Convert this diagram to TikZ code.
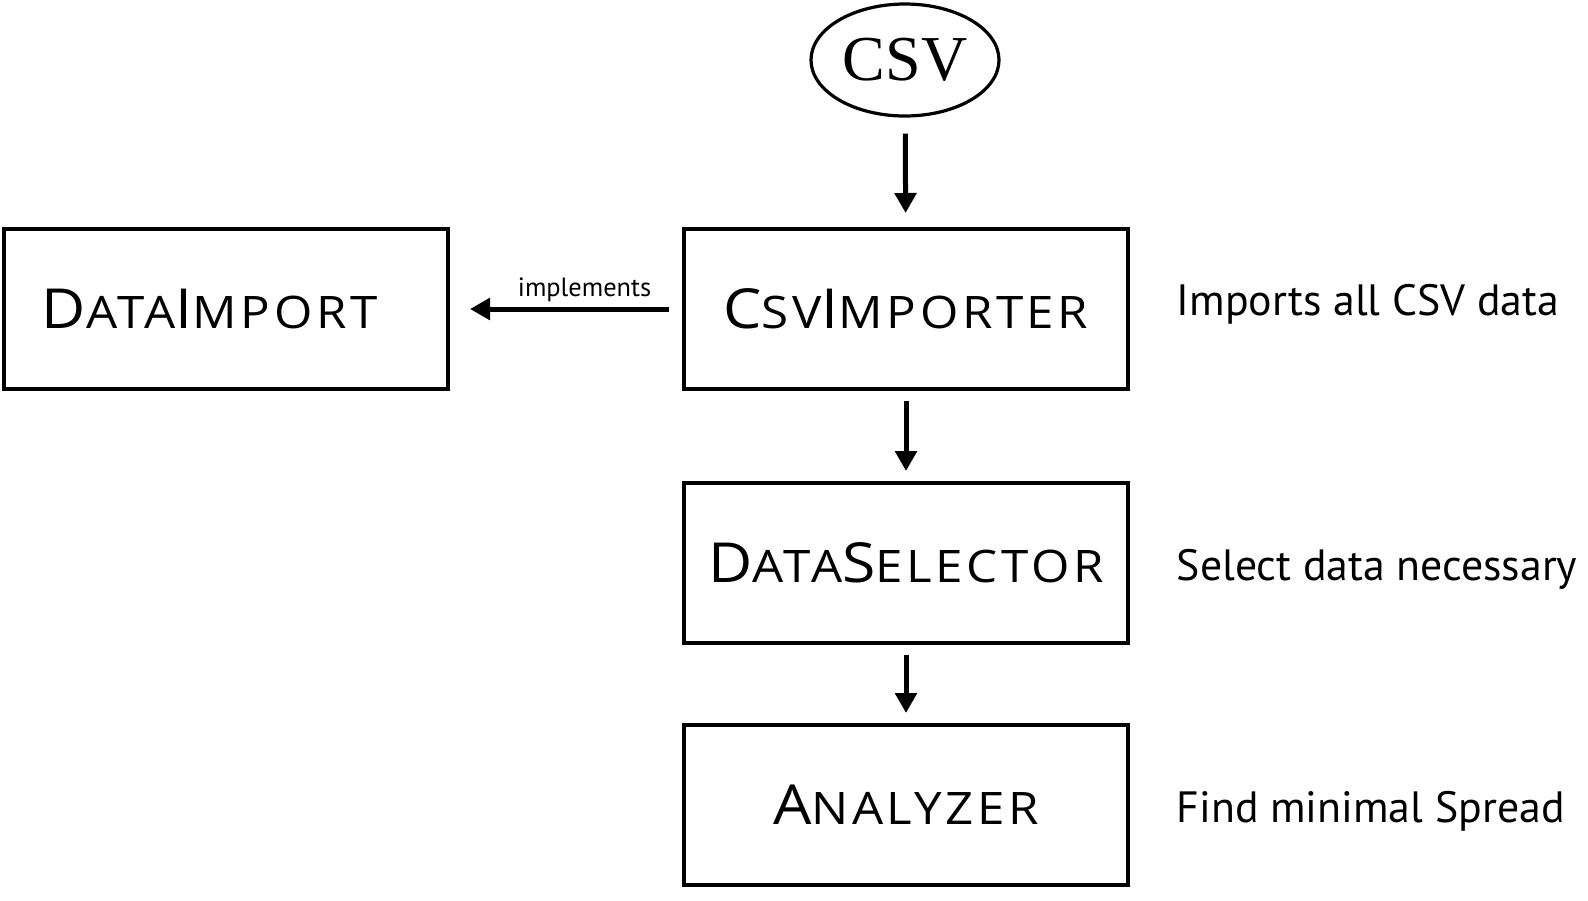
\documentclass[tikz,border=0pt]{standalone}
\usepackage{fontspec}
\newfontfamily\labelfont{PT Sans}
\newfontfamily\classfont[LetterSpace=8,FakeStretch=1.1]{Open Sans}
\newfontfamily\inputfont{Liberation Serif}
\usetikzlibrary{arrows.meta,shapes.geometric}

% fake small caps for the class names
\newcommand{\smallpart}[1]{{\fontsize{11.2}{12}\selectfont #1}}

\tikzset{
  classbox/.style={draw, line width=1pt, minimum width=111pt, minimum height=40pt,
    inner sep=0pt, font=\classfont\fontsize{13.8}{16}\selectfont},
  flowarrow/.style={-{Triangle[width=5.3pt,length=5pt]}, line width=1.25pt,
    shorten <=2.5pt, shorten >=2.5pt},
  sidenote/.style={anchor=base west, inner sep=0pt, font=\labelfont\fontsize{10.95}{12}\selectfont}
}

\begin{document}
\begin{tikzpicture}[x=0.25pt,y=-0.25pt]
  \useasboundingbox (0,0) rectangle (1588,901);

  \node [ellipse, draw, line width=0.8pt, minimum width=47pt, minimum height=28pt, inner sep=0pt,
         font=\inputfont\fontsize{16}{18}\selectfont] (csv) at (905,60) {CSV};

  \node [classbox] (importer) at (906,309) {C\smallpart{SV}I\smallpart{MPORTER}};
  \node [classbox] (dataimport) at (226,309) {D\smallpart{ATA}I\smallpart{MPORT}\kern8.2pt}; % text sits left of centre
  \node [classbox] (selector) at (906,563) {D\smallpart{ATA}S\smallpart{ELECTOR}};
  \node [classbox] (analyzer) at (906,805) {A\smallpart{NALYZER}};

  \node [sidenote] (noteimp) at (1176,315) {Imports all CSV data};
  \node [sidenote] (notesel) at (1176,580) {Select data necessary};
  \node [sidenote] (noteana) at (1176,822) {Find minimal Spread};

  \draw [flowarrow, shorten <=4pt, shorten >=3.5pt] (csv) -- (importer);
  \draw [flowarrow] (importer) -- (selector);
  \draw [flowarrow] (selector) -- (analyzer);
  \draw [flowarrow, shorten <=3.2pt, shorten >=5pt] (importer) -- (dataimport)
    node [pos=0.42, above=-2.2pt, font=\labelfont\fontsize{6.6}{8}\selectfont] (impl) {implements};
\end{tikzpicture}
\end{document}
